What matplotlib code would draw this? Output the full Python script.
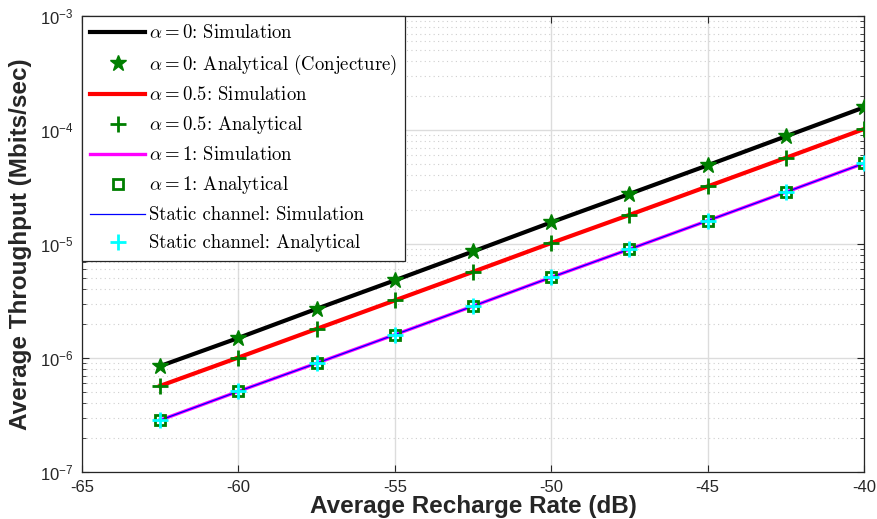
import matplotlib
matplotlib.use("Agg")
import matplotlib.pyplot as plt
import numpy as np
from matplotlib.ticker import LogLocator, NullFormatter

plt.rcParams['mathtext.fontset'] = 'cm'
plt.rcParams['font.family'] = ['Liberation Sans', 'DejaVu Sans']
plt.rcParams['axes.unicode_minus'] = False

#==== data ====
x_db = [-62.5, -60, -57.5, -55, -52.5, -50, -47.5, -45, -42.5, -40]
thr_a0 = [8.5e-7, 1.5e-6, 2.7e-6, 4.8e-6, 8.6e-6, 1.55e-5, 2.75e-5, 4.9e-5, 8.8e-5, 1.58e-4]
thr_a05 = [5.7e-7, 1.01e-6, 1.8e-6, 3.2e-6, 5.7e-6, 1.02e-5, 1.8e-5, 3.2e-5, 5.7e-5, 1.02e-4]
thr_a1 = [2.85e-7, 5.1e-7, 9.0e-7, 1.6e-6, 2.85e-6, 5.1e-6, 9.0e-6, 1.6e-5, 2.85e-5, 5.1e-5]
thr_static = [2.85e-7, 5.1e-7, 9.0e-7, 1.6e-6, 2.85e-6, 5.1e-6, 9.0e-6, 1.6e-5, 2.85e-5, 5.1e-5]

labels = [r'$\alpha = 0$: Simulation',
          r'$\alpha = 0$: Analytical (Conjecture)',
          r'$\alpha = 0.5$: Simulation',
          r'$\alpha = 0.5$: Analytical',
          r'$\alpha = 1$: Simulation',
          r'$\alpha = 1$: Analytical',
          'Static channel: Simulation',
          'Static channel: Analytical']

#==== plot ====
fig = plt.figure(figsize=(8.77, 5.19), dpi=100)
ax = fig.add_axes([82/877, 1-472/519, (864-82)/877, (472-16)/519])

green = '#007f00'
ax.plot(x_db, thr_a0, color='black', lw=3.0, label=labels[0], zorder=3)
ax.plot(x_db, thr_a0, ls='none', marker='*', ms=12, color=green, label=labels[1], zorder=4)
ax.plot(x_db, thr_a05, color='red', lw=3.0, label=labels[2], zorder=3)
ax.plot(x_db, thr_a05, ls='none', marker='+', ms=12, mew=2, color=green, label=labels[3], zorder=4)
ax.plot(x_db, thr_a1, color='magenta', lw=2.4, label=labels[4], zorder=3)
ax.plot(x_db, thr_a1, ls='none', marker='s', ms=7, mew=2, mfc='none', mec=green, label=labels[5], zorder=4)
ax.plot(x_db, thr_static, color='blue', lw=0.9, label=labels[6], zorder=3)
ax.plot(x_db, thr_static, ls='none', marker='+', ms=12, mew=2, color='cyan', label=labels[7], zorder=5)

ax.set_yscale('log')
ax.set_xlim(-65, -40)
ax.set_ylim(1e-7, 1e-3)
ax.set_xticks([-65, -60, -55, -50, -45, -40])
ax.yaxis.set_major_locator(LogLocator(base=10, numticks=10))
ax.yaxis.set_minor_locator(LogLocator(base=10, subs=np.arange(2, 10), numticks=10))
ax.yaxis.set_minor_formatter(NullFormatter())

ax.grid(True, which='major', color='#dcdcdc', lw=1.0, ls='-')
ax.grid(True, which='minor', axis='y', color='#cfcfcf', lw=0.8, ls=(0, (1, 3)))
ax.set_axisbelow(True)
ax.tick_params(which='both', direction='in', top=True, right=True, labelsize=12, colors='#262626')
ax.tick_params(axis='x', which='major', length=5, pad=6)
ax.tick_params(axis='y', which='major', length=5, pad=6)
ax.tick_params(which='minor', length=3)
for sp in ax.spines.values():
    sp.set_color('#262626')
    sp.set_linewidth(0.9)

ax.set_xlabel('Average Recharge Rate (dB)', fontsize=17.5, fontweight='bold', labelpad=0, color='#262626')
ax.set_ylabel('Average Throughput (Mbits/sec)', fontsize=17.5, fontweight='bold', labelpad=6, color='#262626')

leg = ax.legend(loc='upper left', bbox_to_anchor=(0, 1), borderaxespad=0,
                prop={'family': 'cmr10', 'size': 13.5}, fancybox=False, framealpha=1,
                edgecolor='#262626', handlelength=2.9, handletextpad=0.2,
                labelspacing=0.53, borderpad=0.45)
leg.get_frame().set_linewidth(0.9)

fig.savefig('out.png', dpi=100)
